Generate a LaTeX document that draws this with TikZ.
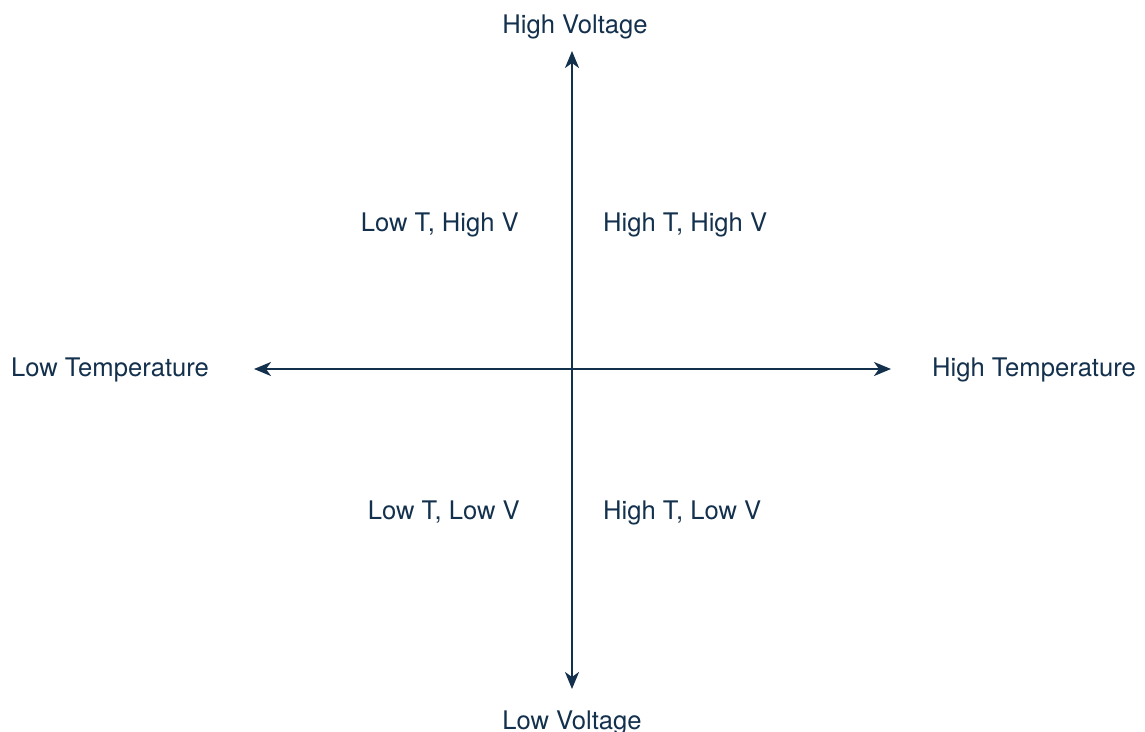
\documentclass[tikz,border=0pt]{standalone}
\usepackage{fontspec}
\setmainfont{TeX Gyre Heros}
\usetikzlibrary{arrows.meta}
\definecolor{navy}{HTML}{13304D}
\begin{document}
\begin{tikzpicture}[x=1pt,y=-1pt,
  lbl/.style={text=navy,font=\fontsize{25.6}{30}\selectfont,inner sep=0pt,anchor=base},
  axis/.style={draw=navy,line width=2.2pt,{Stealth[length=17pt,width=14pt,inset=5pt]}-{Stealth[length=17pt,width=14pt,inset=5pt]}}]
\useasboundingbox (0,0) rectangle (1145,731);
\coordinate (top) at (572,51);
\coordinate (bot) at (572,689);
\coordinate (lft) at (254,369);
\coordinate (rgt) at (891,369);
\draw[axis] (bot) -- (top);
\draw[axis] (lft) -- (rgt);
\node[lbl] (hv) at (575,33) {High Voltage};
\node[lbl] (lv) at (572,729) {Low Voltage};
\node[lbl] (lt) at (110,376) {Low Temperature};
\node[lbl] (ht) at (1034,376) {High Temperature};
\node[lbl,anchor=base east] (q2) at (519,231) {Low T, High V};
\node[lbl,anchor=base west] (q1) at (603,231) {High T, High V};
\node[lbl,anchor=base east] (q3) at (520,519) {Low T, Low V};
\node[lbl,anchor=base west] (q4) at (603,519) {High T, Low V};
\end{tikzpicture}
\end{document}
